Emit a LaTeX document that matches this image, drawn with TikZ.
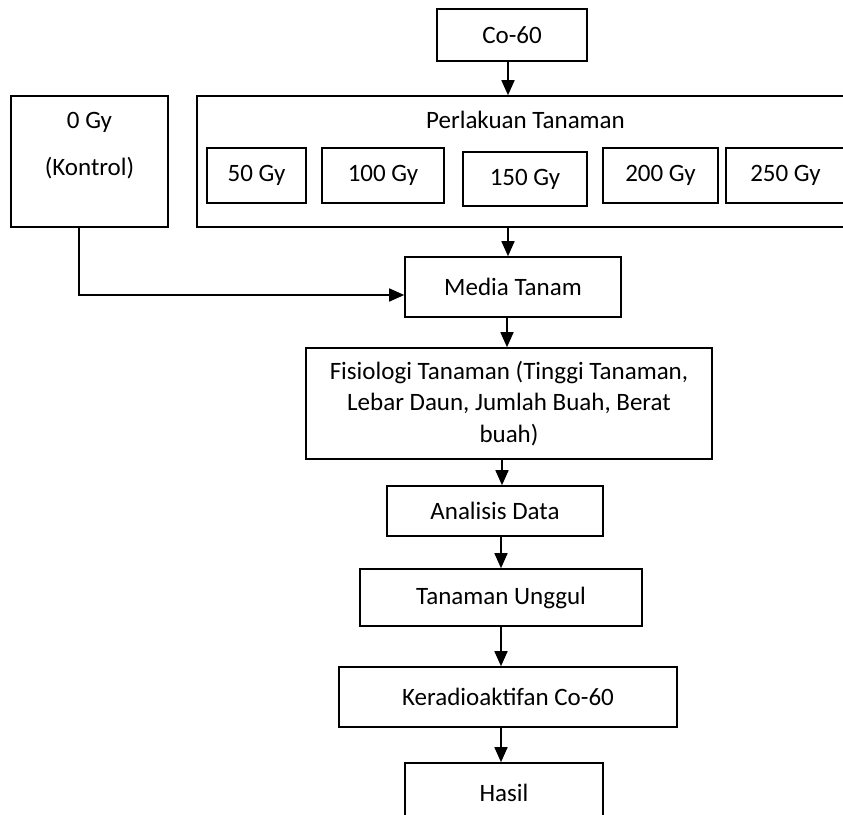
\documentclass[tikz,border=0pt]{standalone}
\usepackage{fontspec}
\setmainfont{Carlito}
\usetikzlibrary{positioning,arrows.meta}

\begin{document}
\begin{tikzpicture}[x=1pt,y=-1pt,
  kotak/.style={draw, line width=1.6pt, inner sep=0pt, align=center,
    font=\fontsize{25}{31.5}\selectfont},
  panah/.style={line width=1.6pt, -{Triangle[length=15pt,width=13pt]}}]

\useasboundingbox (0,0) rectangle (843,814);
\clip (0,0) rectangle (843,814);

%%% kotak atas
\node[kotak, minimum width=150pt, minimum height=52pt] (co60) at (512,35) {Co-60};

\node[kotak, minimum width=157pt, minimum height=131pt] (kontrol) at (89.5,161.5) {};
\node[font=\fontsize{25}{31.5}\selectfont] (kontroltxt) at (89.5,122) {0 Gy};
\node[font=\fontsize{25}{31.5}\selectfont] (kontroltxt2) at (89.5,168) {(Kontrol)};

\node[kotak, minimum width=658pt, minimum height=131pt] (perlakuan) at (526,161.5) {};
\node[font=\fontsize{25}{31.5}\selectfont] (judul) at (525.5,120) {Perlakuan Tanaman};

%% dosis
\node[kotak, minimum width=99pt, minimum height=55pt] (g50) at (256.5,175.5) {50 Gy};
\node[kotak, minimum width=122pt, minimum height=55pt] (g100) at (383,175.5) {100 Gy};
\node[kotak, minimum width=124pt, minimum height=54pt] (g150) at (525,179) {150 Gy};
\node[kotak, minimum width=115pt, minimum height=55pt] (g200) at (660.5,175.5) {200 Gy};
\node[kotak, minimum width=119pt, minimum height=55pt] (g250) at (785.5,175.5) {250 Gy};

%%% alur
\node[kotak, minimum width=216pt, minimum height=60pt] (media) at (513,287) {Media Tanam};
\node[kotak, minimum width=406pt, minimum height=111pt] (fisiologi) at (509,403.5)
  {Fisiologi Tanaman (Tinggi Tanaman,\\ Lebar Daun, Jumlah Buah, Berat\\ buah)};
\node[kotak, minimum width=216pt, minimum height=50pt] (analisis) at (495,511) {Analisis Data};
\node[kotak, minimum width=282pt, minimum height=57pt] (unggul) at (501,597.5) {Tanaman Unggul};
\node[kotak, minimum width=338pt, minimum height=60pt] (keradio) at (508,697) {Keradioaktifan Co-60};
\node[kotak, minimum width=198pt, minimum height=60pt] (hasil) at (504,793) {Hasil};

%% panah
\draw[panah] ([xshift=-4pt]co60.south) -- ([xshift=-4pt]co60.south |- perlakuan.north);
\draw[panah] ([xshift=-5pt]media.north |- perlakuan.south) -- ([xshift=-5pt]media.north);
\draw[panah] ([xshift=-10.5pt]kontrol.south) |- ([yshift=-8pt]media.west);
\draw[panah] ([xshift=-6pt]media.south) -- ([xshift=-6pt]media.south |- fisiologi.north);
\draw[panah] ([xshift=-7pt]fisiologi.south) -- ([xshift=-7pt]fisiologi.south |- analisis.north);
\draw[panah] ([xshift=6pt]analisis.south) -- ([xshift=6pt]analisis.south |- unggul.north);
\draw[panah] (unggul.south) -- (unggul.south |- keradio.north);
\draw[panah] ([xshift=-7pt]keradio.south) -- ([xshift=-7pt]keradio.south |- hasil.north);

\end{tikzpicture}
\end{document}
